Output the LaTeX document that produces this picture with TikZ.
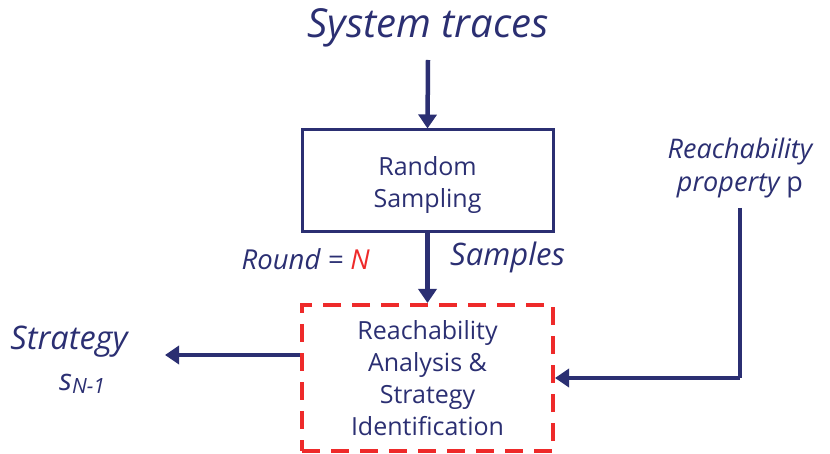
\documentclass[tikz,border=0pt]{standalone}
\usepackage{fontspec}
\setmainfont{Open Sans}
\usetikzlibrary{arrows.meta}
\definecolor{navy}{HTML}{2B2F72}
\definecolor{redd}{HTML}{EE2A2A}
\begin{document}
\begin{tikzpicture}[x=1pt,y=-1pt,
  txt/.style={text=navy,inner sep=0pt,align=center},
  flow/.style={navy,line width=4.5pt,-{Triangle[length=14pt,width=18pt]}},
  every node/.style={font=\fontsize{25}{32}\selectfont}]
\useasboundingbox (0,0) rectangle (830,454);
\node[txt,font=\fontsize{40}{44}\selectfont\itshape] (title) at (428,28) {System traces};
\node[draw=navy,line width=3pt,minimum width=251pt,minimum height=102pt,inner sep=0pt] (rs) at (427.5,181) {};
\node[txt] (rstext) at (427.5,185) {Random\\Sampling};
\node[draw=redd,line width=4pt,dash pattern=on 18pt off 11pt,minimum width=251pt,minimum height=146pt,txt] (ra) at (427.5,378) {Reachability\\Analysis \&\\Strategy\\Identification};
\node[txt,font=\fontsize{27.5}{30}\selectfont\itshape,anchor=east] (round) at (370,259) {Round = \textcolor{redd}{N}};
\node[txt,font=\fontsize{31}{34}\selectfont\itshape,anchor=west] (samp) at (450,257) {Samples};
\node[txt,font=\fontsize{32.5}{36}\selectfont\itshape] (strat) at (69,342) {Strategy};
\node[txt,font=\fontsize{30}{32}\selectfont\itshape] (sn) at (82,384) {s\raisebox{-0.12em}{\fontsize{21}{24}\selectfont N-1}};
\node[txt,font=\fontsize{27}{33}\selectfont\itshape] (prop) at (740,168) {Reachability\\property \upshape p};
\coordinate (corner) at (740,378);
\draw[flow] (428,60) -- (rs.north);
\draw[flow] (rs.south) -- (ra.north);
\draw[flow] (ra.west |- 0,355) -- (165,355);
\draw[navy,line width=4.5pt] (740,208) -- (corner);
\draw[flow] (corner) -- (ra.east |- corner);
\end{tikzpicture}
\end{document}
